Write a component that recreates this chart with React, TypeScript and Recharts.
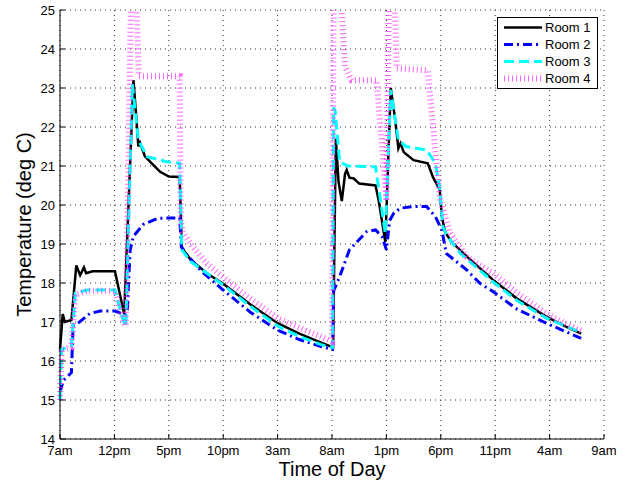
import React from 'react';
import { LineChart, Line, XAxis, YAxis, CartesianGrid, Legend, Label } from 'recharts';

// hours counted from 7am on day one
const xTickHours = [0, 5, 10, 15, 20, 25, 30, 35, 40, 45, 50];
const xTickLabels = ['7am', '12pm', '5pm', '10pm', '3am', '8am', '1pm', '6pm', '11pm', '4am', '9am'];
const yTicks = [14, 15, 16, 17, 18, 19, 20, 21, 22, 23, 24, 25];

const room1Hours = [0, 0.25, 0.45, 1.05, 1.5, 1.85, 2.2, 2.4, 3.0, 5.05, 5.9, 6.75, 7.0, 7.2, 7.35, 7.8, 8.5, 9.2, 10.0, 11.0, 11.2, 12, 13.5, 15, 17.5, 20, 22, 24, 25.1, 25.35, 25.6, 25.9, 26.2, 26.35, 26.6, 27, 27.5, 29, 29.3, 29.9, 30.4, 30.8, 31.1, 31.3, 31.6, 32.5, 33.8, 34.3, 34.9, 35.1, 35.4, 36, 37.5, 39.8, 42, 44.7, 46.5, 47.9];
const room1Temps = [16.3, 17.2, 17.0, 17.05, 18.45, 18.2, 18.4, 18.25, 18.3, 18.3, 17.2, 23.2, 22.3, 21.5, 21.6, 21.25, 21.05, 20.85, 20.73, 20.72, 18.9, 18.6, 18.25, 17.98, 17.45, 16.97, 16.7, 16.47, 16.35, 21.7, 20.6, 20.1, 20.8, 20.9, 20.7, 20.68, 20.55, 20.5, 20.1, 19.05, 23.0, 22.2, 21.45, 21.58, 21.35, 21.15, 21.07, 20.7, 20.4, 19.7, 19.3, 19.05, 18.65, 18.08, 17.6, 17.14, 16.88, 16.7];

const room2Hours = [0, 0.3, 1.05, 1.2, 1.8, 2.75, 3.7, 5.05, 6.0, 6.2, 6.3, 6.45, 6.75, 7.65, 9.0, 11.0, 11.15, 11.6, 13, 15, 17.5, 20, 22, 24, 25.05, 25.15, 25.7, 26.6, 28.2, 29.0, 29.6, 30.0, 30.3, 30.7, 31.3, 32.5, 33.7, 34.5, 35.1, 35.5, 37.4, 38.6, 39.8, 42, 44.7, 47.9];
const room2Temps = [15.2, 15.5, 15.7, 16.9, 17.0, 17.22, 17.28, 17.28, 17.18, 17.3, 18.0, 18.85, 19.2, 19.5, 19.66, 19.67, 18.93, 18.75, 18.3, 17.82, 17.25, 16.79, 16.55, 16.37, 16.3, 17.8, 18.16, 18.85, 19.32, 19.36, 19.19, 18.85, 19.6, 19.8, 19.92, 19.96, 19.96, 19.7, 19.36, 18.76, 18.33, 17.99, 17.78, 17.33, 16.97, 16.58];

const room3Hours = [0, 0.15, 1.05, 1.4, 2.5, 5.05, 5.8, 6.05, 6.65, 7.2, 8.0, 9.8, 11.0, 11.2, 12, 15, 17.5, 20, 22, 24, 25.05, 25.15, 25.3, 25.7, 26.5, 29.0, 29.9, 30.4, 31.1, 31.8, 33.7, 34.5, 34.9, 35.2, 35.6, 36.8, 39.8, 42, 44.7, 47.9];
const room3Temps = [15.0, 16.3, 16.37, 17.74, 17.82, 17.82, 17.05, 16.88, 23.1, 21.67, 21.24, 21.11, 21.07, 18.85, 18.55, 17.95, 17.4, 16.9, 16.63, 16.42, 16.35, 22.5, 22.4, 21.1, 21.0, 20.98, 19.27, 22.95, 21.67, 21.5, 21.41, 21.07, 20.43, 19.44, 19.2, 18.76, 18.03, 17.55, 17.1, 16.73];

const room4Hours = [0, 0.15, 1.05, 1.4, 2.5, 5.05, 5.8, 6.05, 6.55, 6.95, 7.25, 11.0, 11.1, 11.3, 12, 13.5, 15.3, 17.5, 20, 22, 24, 25.0, 25.15, 25.7, 26.2, 26.8, 29.1, 30.0, 30.25, 30.7, 30.95, 33.8, 34.9, 35.8, 37.4, 39.8, 42, 44.7, 46.5, 47.9];
const room4Temps = [15.0, 16.3, 16.35, 17.7, 17.8, 17.8, 17.0, 16.9, 25.8, 25.8, 23.3, 23.3, 19.6, 19.3, 19.0, 18.5, 18.08, 17.6, 17.1, 16.85, 16.62, 16.5, 25.8, 25.8, 23.55, 23.2, 23.2, 20.1, 25.8, 25.8, 23.5, 23.45, 20.2, 19.3, 18.67, 18.25, 17.75, 17.22, 16.95, 16.78];

const toPoints = (hours: number[], temps: number[]) => hours.map((h, i) => ({ h, t: temps[i] }));

const rooms = [
  { name: 'Room 1', data: toPoints(room1Hours, room1Temps), stroke: '#000000', width: 2.5, dash: undefined as string | undefined, opacity: 1 },
  { name: 'Room 2', data: toPoints(room2Hours, room2Temps), stroke: '#0000ff', width: 3, dash: '9 4 2 4', opacity: 1 },
  { name: 'Room 3', data: toPoints(room3Hours, room3Temps), stroke: '#00ffff', width: 3, dash: '10 5', opacity: 1 },
  { name: 'Room 4', data: toPoints(room4Hours, room4Temps), stroke: '#ff33ff', width: 6, dash: '1 3', opacity: 0.75 },
];

const font = '"Liberation Sans", Arial, sans-serif';
const blank = () => '';

const LegendBox = () => (
  <div style={{ border: '1.5px solid #000', background: '#fff', width: 99, height: 69, paddingTop: 1, boxSizing: 'content-box', fontFamily: font }}>
    {rooms.map((r) => (
      <div key={r.name} style={{ display: 'flex', alignItems: 'center', height: 17 }}>
        <svg width={47} height={17}>
          <line x1={6} x2={44} y1={8.5} y2={8.5} stroke={r.stroke} strokeWidth={r.width} strokeDasharray={r.dash} strokeOpacity={r.opacity} />
        </svg>
        <span style={{ fontSize: 13, color: '#000' }}>{r.name}</span>
      </div>
    ))}
  </div>
);

export default function App() {
  return (
    <div style={{ position: 'absolute', left: 0, top: 0, background: '#fff' }}>
      <LineChart width={635} height={481} margin={{ top: 10, right: 31, bottom: 0, left: 0 }} style={{ fontFamily: font }}>
        <CartesianGrid stroke="#333" strokeDasharray="1 4" />
        <XAxis
          dataKey="h"
          type="number"
          domain={[0, 50]}
          ticks={xTickHours}
          tickFormatter={(v: number) => xTickLabels[xTickHours.indexOf(v)]}
          height={42}
          tickSize={-5}
          tickMargin={12}
          stroke="#000"
          tick={{ fill: '#000', fontSize: 13 }}
        >
          <Label value="Time of Day" position="insideBottom" offset={5} style={{ fontSize: 20, fill: '#000' }} />
        </XAxis>
        <XAxis xAxisId="top" orientation="top" type="number" domain={[0, 50]} ticks={xTickHours} tickFormatter={blank} height={0} tickSize={-5} stroke="#000" />
        <YAxis
          domain={[14, 25]}
          ticks={yTicks}
          allowDataOverflow
          width={60}
          tickSize={-5}
          tickMargin={10}
          stroke="#000"
          tick={{ fill: '#000', fontSize: 13 }}
        >
          <Label value="Temperature (deg C)" angle={-90} position="insideLeft" offset={24} textAnchor="middle" style={{ fontSize: 20, fill: '#000', textAnchor: 'middle' }} />
        </YAxis>
        <YAxis yAxisId="right" orientation="right" domain={[14, 25]} ticks={yTicks} tickFormatter={blank} width={0} tickSize={-5} stroke="#000" />
        {rooms.map((r) => (
          <Line
            key={r.name}
            data={r.data}
            dataKey="t"
            name={r.name}
            type="linear"
            stroke={r.stroke}
            strokeWidth={r.width}
            strokeDasharray={r.dash}
            strokeOpacity={r.opacity}
            dot={false}
            activeDot={false}
            isAnimationActive={false}
          />
        ))}
        <Legend layout="vertical" align="center" verticalAlign="middle" content={() => <LegendBox />} wrapperStyle={{ left: 497, top: 17, width: 102 }} />
      </LineChart>
    </div>
  );
}
